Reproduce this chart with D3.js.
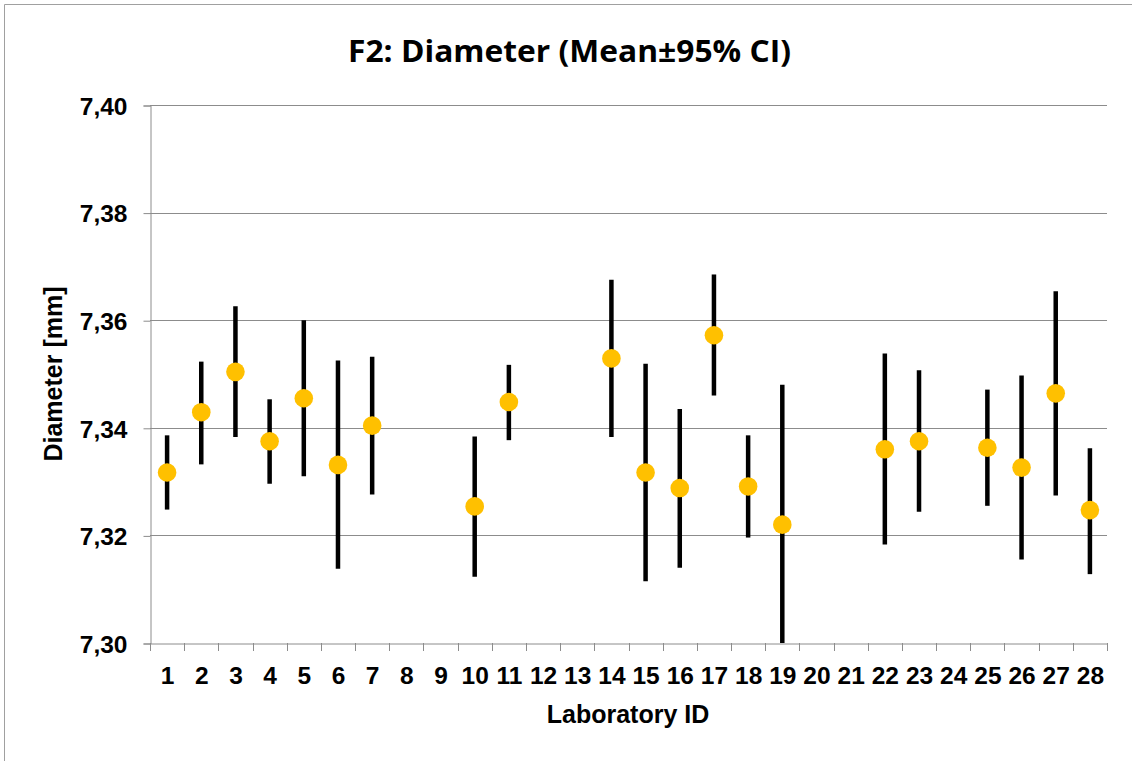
<!DOCTYPE html>
<html><head><meta charset="utf-8">
<script src="https://cdn.jsdelivr.net/npm/d3@7"></script>
<style>body{margin:0;background:#fff}svg{display:block}</style>
</head><body><svg id="c" width="1132" height="761"></svg>
<script>
const labs = ["1","2","3","4","5","6","7","8","9","10","11","12","13","14","15","16","17","18","19","20","21","22","23","24","25","26","27","28"];
const dataLabs = ["1","2","3","4","5","6","7","10","11","14","15","16","17","18","19","22","23","25","26","27","28"];
const means = [7.3317,7.3429,7.3504,7.3375,7.3455,7.3331,7.3404,7.3254,7.3448,7.3529,7.3317,7.3288,7.3572,7.3291,7.3220,7.3360,7.3375,7.3363,7.3326,7.3464,7.3247];
const upper = [7.3386,7.3523,7.3626,7.3453,7.3600,7.3525,7.3532,7.3384,7.3517,7.3675,7.3519,7.3435,7.3685,7.3386,7.3480,7.3538,7.3507,7.3471,7.3497,7.3654,7.3362];
const lower = [7.3248,7.3332,7.3383,7.3296,7.3310,7.3138,7.3276,7.3123,7.3377,7.3383,7.3115,7.3140,7.3460,7.3196,7.2960,7.3183,7.3244,7.3255,7.3155,7.3274,7.3128];
const yTicks = [7.30,7.32,7.34,7.36,7.38,7.40];

const svg = d3.select("#c");
const L=150, R=1107, T=105, B=643;
const x = d3.scaleBand().domain(labs).range([L,R]);
const y = d3.scaleLinear().domain([7.30,7.40]).range([B,T]);
const AR = "'Liberation Sans', Arial, sans-serif";

svg.append("path").attr("d","M4.5,761 V4.5 H1132").attr("fill","none").attr("stroke","#a0a0a0").attr("stroke-width",1);

svg.append("text").attr("x",569.5).attr("y",62).attr("text-anchor","middle")
  .attr("font-family","'Open Sans', Lato, sans-serif").attr("font-weight","bold").attr("font-size",31)
  .attr("textLength",443).attr("lengthAdjust","spacingAndGlyphs")
  .attr("fill","#000").text("F2: Diameter (Mean\u00B195% CI)");

// gridlines
svg.append("g").selectAll("line").data(yTicks.slice(1)).join("line")
  .attr("x1",L).attr("x2",R).attr("y1",d=>Math.round(y(d))+0.5).attr("y2",d=>Math.round(y(d))+0.5)
  .attr("stroke","#8c8c8c").attr("stroke-width",1);

const fmt = d=>d.toFixed(2).replace(".",",");
const ya = svg.append("g").attr("transform",`translate(${L+0.5},0.5)`)
  .call(d3.axisLeft(y).tickValues(yTicks).tickFormat(fmt).tickSize(7).tickPadding(16));
ya.select(".domain").attr("stroke","#8c8c8c");
ya.selectAll(".tick line").attr("stroke","#8c8c8c");
ya.selectAll("text").attr("font-family",AR).attr("font-weight","bold").attr("font-size",24.5).attr("fill","#000").attr("dy","0.36em");

const xa = svg.append("g").attr("transform",`translate(0.5,${B+0.5})`)
  .call(d3.axisBottom(x).tickSize(0).tickPadding(23));
xa.select(".domain").attr("stroke","#8c8c8c");
xa.selectAll("text").attr("font-family",AR).attr("font-weight","bold").attr("font-size",24.5).attr("fill","#000");
// category boundary ticks
const bounds = labs.map(d=>x(d)).concat([R]);
svg.append("g").selectAll("line").data(bounds).join("line")
  .attr("x1",d=>Math.round(d)+0.5).attr("x2",d=>Math.round(d)+0.5).attr("y1",B).attr("y2",B+8)
  .attr("stroke","#8c8c8c");

svg.append("text").attr("x",628).attr("y",723).attr("text-anchor","middle")
  .attr("font-family",AR).attr("font-weight","bold").attr("font-size",25).text("Laboratory ID");
svg.append("text").attr("transform",`translate(62,${(T+B)/2}) rotate(-90)`).attr("text-anchor","middle")
  .attr("font-family",AR).attr("font-weight","bold").attr("font-size",25).text("Diameter [mm]");

svg.append("clipPath").attr("id","pc").append("rect").attr("x",L).attr("y",T).attr("width",R-L).attr("height",B-T);
const g = svg.append("g").attr("clip-path","url(#pc)");
const cx = d=>x(d)+x.bandwidth()/2;
g.selectAll("line.eb").data(dataLabs).join("line").attr("class","eb")
  .attr("x1",d=>cx(d)).attr("x2",d=>cx(d))
  .attr("y1",(d,i)=>y(upper[i])).attr("y2",(d,i)=>y(lower[i]))
  .attr("stroke","#000").attr("stroke-width",4.5);
g.selectAll("circle").data(dataLabs).join("circle")
  .attr("cx",d=>cx(d)).attr("cy",(d,i)=>y(means[i])).attr("r",9.3).attr("fill","#FFC000");
</script></body></html>
